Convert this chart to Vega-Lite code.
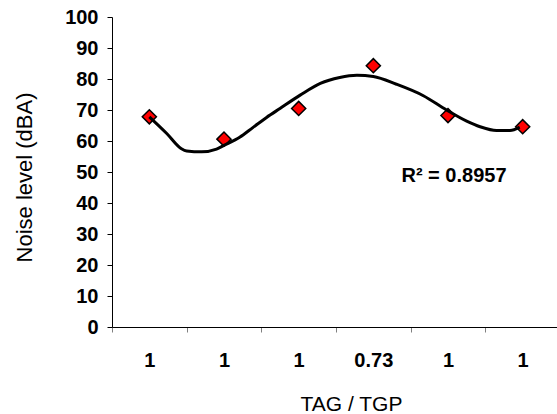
{
  "$schema": "https://vega.github.io/schema/vega-lite/v6.json",
  "autosize": {"type": "none"},
  "padding": {"left": 112, "top": 17, "right": 0, "bottom": 87},
  "width": 448,
  "height": 310,
  "background": "white",
  "config": {
    "view": {"stroke": null},
    "font": "Liberation Sans",
    "axisY": {
      "tickCount": 12,
      "labelOverlap": false,
      "labelFont": "Liberation Sans",
      "labelFontSize": 20,
      "labelFontWeight": "bold",
      "labelColor": "#000000",
      "labelPadding": 9,
      "tickSize": 5,
      "tickColor": "#000000",
      "domainColor": "#000000",
      "grid": false,
      "titleFont": "Liberation Sans",
      "titleFontSize": 22,
      "titleFontWeight": "normal",
      "titleColor": "#000000",
      "titleAngle": -90,
      "titleX": -81,
      "titleY": 160,
      "titleAlign": "center",
      "titleBaseline": "alphabetic"
    }
  },
  "datasets": {
    "points": [
      {"pos": 1, "ratio": "1", "noise": 67.8},
      {"pos": 2, "ratio": "1", "noise": 60.6},
      {"pos": 3, "ratio": "1", "noise": 70.5},
      {"pos": 4, "ratio": "0.73", "noise": 84.3},
      {"pos": 5, "ratio": "1", "noise": 68.2},
      {"pos": 6, "ratio": "1", "noise": 64.6}
    ],
    "trend": [
      {"u": 0.5, "v": 67.8},
      {"u": 0.73, "v": 62.5},
      {"u": 0.93, "v": 57.5},
      {"u": 1.0, "v": 56.8},
      {"u": 1.2, "v": 56.5},
      {"u": 1.4, "v": 57.4},
      {"u": 1.5, "v": 58.6},
      {"u": 1.71, "v": 61.2},
      {"u": 1.89, "v": 64.4},
      {"u": 2.07, "v": 67.6},
      {"u": 2.25, "v": 70.5},
      {"u": 2.52, "v": 74.8},
      {"u": 2.79, "v": 78.6},
      {"u": 3.05, "v": 80.5},
      {"u": 3.28, "v": 81.2},
      {"u": 3.5, "v": 80.8},
      {"u": 3.81, "v": 78.3},
      {"u": 4.17, "v": 74.6},
      {"u": 4.48, "v": 70.0},
      {"u": 4.75, "v": 66.4},
      {"u": 4.93, "v": 64.6},
      {"u": 5.15, "v": 63.4},
      {"u": 5.33, "v": 63.4},
      {"u": 5.46, "v": 64.5}
    ],
    "note": [
      {"u": 4.58, "v": 46.9, "text": "R² = 0.8957"}
    ]
  },
  "layer": [
    {
      "data": {"name": "points"},
      "mark": {"type": "point", "shape": "diamond", "filled": true, "fill": "#FF0000", "stroke": "#000000", "strokeWidth": 1.5, "size": 200, "opacity": 1},
      "encoding": {
        "x": {
          "field": "pos", "type": "ordinal",
          "scale": {"type": "band", "paddingInner": 0, "paddingOuter": 0},
          "axis": {
            "title": "TAG / TGP",
            "labelExpr": "['1','1','1','0.73','1','1'][datum.value - 1]",
            "labelAngle": 0,
            "labelFont": "Liberation Sans",
            "labelFontSize": 20,
            "labelFontWeight": "bold",
            "labelColor": "#000000",
            "labelPadding": 18,
            "labelOverlap": false,
            "tickBand": "extent",
            "tickSize": 5,
            "tickColor": "#808080",
            "tickWidth": 1,
            "domainColor": "#000000",
            "domainWidth": 1,
            "grid": false,
            "titleFont": "Liberation Sans",
            "titleFontSize": 21,
            "titleFontWeight": "normal",
            "titleColor": "#000000",
            "titleX": 239,
            "titleY": 83,
            "titleBaseline": "alphabetic",
            "titleAlign": "center"
          }
        },
        "y": {
          "field": "noise", "type": "quantitative",
          "scale": {"domain": [0, 100], "nice": false, "zero": true},
          "axis": {"title": "Noise level (dBA)", "values": [0, 10, 20, 30, 40, 50, 60, 70, 80, 90, 100], "tickCount": 12, "labelOverlap": false}
        }
      }
    },
    {
      "data": {"name": "trend"},
      "mark": {"type": "line", "color": "#000000", "strokeWidth": 3, "interpolate": "monotone"},
      "encoding": {
        "x": {"field": "u", "type": "quantitative", "scale": {"domain": [0, 6], "nice": false, "zero": false}, "axis": null},
        "y": {"field": "v", "type": "quantitative", "axis": {"title": "Noise level (dBA)", "values": [0, 10, 20, 30, 40, 50, 60, 70, 80, 90, 100], "tickCount": 12, "labelOverlap": false}}
      }
    },
    {
      "data": {"name": "note"},
      "mark": {"type": "text", "font": "Liberation Sans", "fontSize": 20, "fontWeight": "bold", "color": "#000000", "align": "center", "baseline": "alphabetic"},
      "encoding": {
        "x": {"field": "u", "type": "quantitative", "scale": {"domain": [0, 6], "nice": false, "zero": false}, "axis": null},
        "y": {"field": "v", "type": "quantitative", "axis": {"title": "Noise level (dBA)", "values": [0, 10, 20, 30, 40, 50, 60, 70, 80, 90, 100], "tickCount": 12, "labelOverlap": false}},
        "text": {"field": "text"}
      }
    }
  ],
  "resolve": {"scale": {"x": "independent"}}
}
